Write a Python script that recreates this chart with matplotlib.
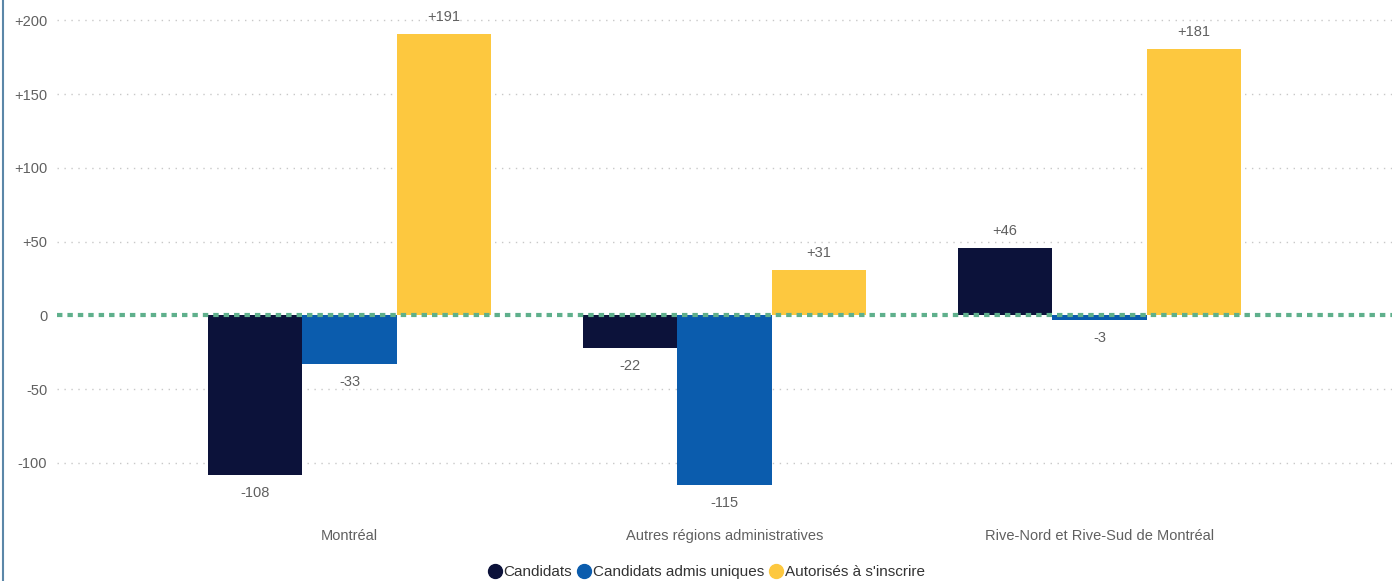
import matplotlib.pyplot as plt
import numpy as np
from matplotlib.lines import Line2D

plt.rcParams['font.family'] = ['Liberation Sans', 'DejaVu Sans']

categories = ["Montréal", "Autres régions administratives", "Rive-Nord et Rive-Sud de Montréal"]
series_names = ["Candidats", "Candidats admis uniques", "Autorisés à s'inscrire"]
candidats = [-108, -22, 46]
admis_uniques = [-33, -115, -3]
autorises = [191, 31, 181]
yticks = [-100, -50, 0, 50, 100, 150, 200]
ytick_labels = ["-100", "-50", "0", "+50", "+100", "+150", "+200"]

colors = ["#0c123a", "#0b5cad", "#fdc83f"]
text_color = "#606060"

fig = plt.figure(figsize=(13.92, 5.81), dpi=100)
ax = fig.add_axes([57 / 1392, 1 - 505 / 581, 1 - 57 / 1392, 500 / 581])

x = np.arange(len(categories))
width = 0.252
all_series = [candidats, admis_uniques, autorises]
for i, vals in enumerate(all_series):
    pos = x + (i - 1) * width
    ax.bar(pos, vals, width=width, color=colors[i], zorder=2)
    for p, v in zip(pos, vals):
        lab = "+%d" % v if v > 0 else "%d" % v
        if v >= 0:
            ax.annotate(lab, (p, v), xytext=(0, 7), textcoords="offset points",
                        ha="center", va="bottom", fontsize=10.5, color=text_color)
        else:
            ax.annotate(lab, (p, v), xytext=(0, -8), textcoords="offset points",
                        ha="center", va="top", fontsize=10.5, color=text_color)

# grid lines
for t in yticks:
    if t != 0:
        ax.axhline(t, color="#c8c8c8", lw=1, ls=(0, (1, 4)), zorder=1)
ax.axhline(0, color="#5fb08c", lw=3, ls=(0, (1.3, 1.2)), zorder=3)

ax.set_xlim(-0.78, 2.78)
ax.set_ylim(-128.5, 210.5)
ax.set_yticks(yticks)
ax.set_yticklabels(ytick_labels)
ax.set_xticks(x)
ax.set_xticklabels(categories)
ax.tick_params(axis="both", length=0, labelsize=10.5, labelcolor=text_color)
ax.tick_params(axis="y", pad=7)
ax.tick_params(axis="x", pad=17)
for s in ax.spines.values():
    s.set_visible(False)

# left border
fig.add_artist(Line2D([3 / 1392, 3 / 1392], [0, 1], color="#5b87a8", lw=1.5))

handles = [Line2D([], [], marker="o", ls="none", color=c, markersize=10) for c in colors]
fig.legend(handles, series_names, loc="center", bbox_to_anchor=(706 / 1392, 1 - 572 / 581),
           ncol=3, frameon=False, fontsize=11, handletextpad=0.05, columnspacing=0.3,
           handlelength=1.0, labelcolor="#333333")

fig.savefig("out.png", dpi=100)
